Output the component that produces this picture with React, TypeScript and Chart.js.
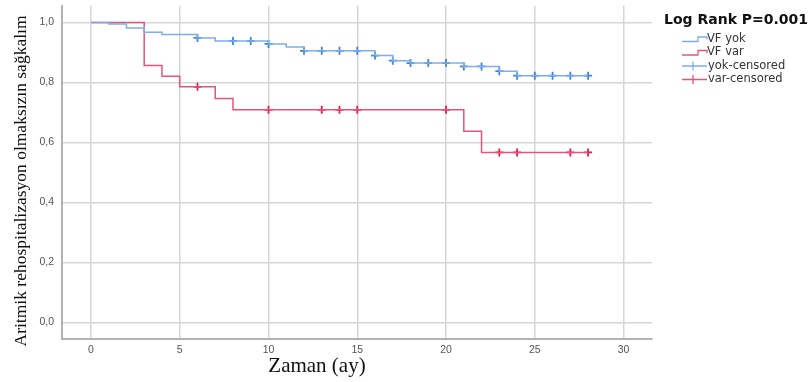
import React, { useEffect, useRef } from "react";
import { Chart, registerables } from "chart.js";

Chart.register(...registerables);

// Kaplan–Meier step data: survival value holding from each time onward
const yokTimes = [0, 1, 2, 3, 4, 6, 7, 10, 11, 12, 16, 17, 18, 21, 23, 24, 28];
const yokSurv = [1.0, 0.995, 0.982, 0.968, 0.96, 0.949, 0.939, 0.929, 0.919, 0.906, 0.89, 0.873, 0.865, 0.854, 0.838, 0.823, 0.823];
const yokCensored = [6, 8, 9, 10, 12, 13, 14, 15, 16, 17, 18, 19, 20, 21, 22, 23, 24, 25, 26, 27, 28];

const varTimes = [0, 3, 4, 5, 7, 8, 21, 22, 28];
const varSurv = [1.0, 0.857, 0.821, 0.786, 0.747, 0.709, 0.638, 0.567, 0.567];
const varCensored = [6, 10, 13, 14, 15, 20, 23, 24, 27, 28];

const xTicks = [0, 5, 10, 15, 20, 25, 30];
const yTicks = [0, 0.2, 0.4, 0.6, 0.8, 1.0];

const legendTitle = "Log Rank P=0.001";
const legendLabels = ["VF yok", "VF var", "yok-censored", "var-censored"];
const xTitle = "Zaman (ay)";
const yTitle = "Aritmik rehospitalizasyon olmaksızın sağkalım";

const BLUE_LINE = "#7dadee";
const BLUE_MARK = "#3d84de";
const RED_LINE = "#e8557a";
const RED_MARK = "#de1f4f";

function survivalAt(times: number[], surv: number[], t: number) {
  let v = surv[0];
  for (let i = 0; i < times.length; i++) if (times[i] <= t) v = surv[i];
  return v;
}

const overlay = {
  id: "kmOverlay",
  afterDraw(chart: any) {
    const ctx = chart.ctx as CanvasRenderingContext2D;
    ctx.save();
    // axis titles
    ctx.fillStyle = "#111";
    ctx.textAlign = "center";
    ctx.textBaseline = "middle";
    ctx.font = '21px "Liberation Serif", serif';
    ctx.fillText(xTitle, 317, 366);
    ctx.save();
    ctx.translate(21, 181);
    ctx.rotate(-Math.PI / 2);
    ctx.font = '17.5px "Liberation Serif", serif';
    ctx.fillText(yTitle, 0, 0);
    ctx.restore();

    // legend
    ctx.textAlign = "left";
    ctx.fillStyle = "#111";
    ctx.font = 'bold 14px "DejaVu Sans", sans-serif';
    ctx.fillText(legendTitle, 664, 20);
    ctx.font = '11.5px "DejaVu Sans", sans-serif';
    ctx.fillStyle = "#333";
    const rows = [39, 52.5, 66, 79.5];
    const colors = [BLUE_LINE, RED_LINE, BLUE_LINE, RED_LINE];
    rows.forEach((y, i) => {
      ctx.strokeStyle = colors[i];
      ctx.lineWidth = 1.3;
      ctx.beginPath();
      if (i < 2) {
        ctx.moveTo(682, y + 2.5);
        ctx.lineTo(698, y + 2.5);
        ctx.lineTo(698, y - 2);
        ctx.lineTo(707, y - 2);
        ctx.lineTo(707, y + 0.5);
      } else {
        ctx.moveTo(682, y);
        ctx.lineTo(707, y);
        ctx.moveTo(693, y - 4.5);
        ctx.lineTo(693, y + 4.5);
      }
      ctx.stroke();
      ctx.fillText(legendLabels[i], i < 2 ? 707 : 708, y);
    });
    ctx.restore();
  },
};

export default function App() {
  const ref = useRef<HTMLCanvasElement>(null);

  useEffect(() => {
    if (!ref.current) return;
    const chart = new Chart(ref.current, {
      type: "line",
      data: {
        datasets: [
          {
            label: legendLabels[0],
            data: yokTimes.map((t, i) => ({ x: t, y: yokSurv[i] })),
            borderColor: BLUE_LINE,
            borderWidth: 1.5,
            stepped: true,
            pointRadius: 0,
            fill: false,
          },
          {
            label: legendLabels[1],
            data: varTimes.map((t, i) => ({ x: t, y: varSurv[i] })),
            borderColor: RED_LINE,
            borderWidth: 1.5,
            stepped: true,
            pointRadius: 0,
            fill: false,
          },
          {
            label: legendLabels[2],
            data: yokCensored.map((t) => ({ x: t, y: survivalAt(yokTimes, yokSurv, t) })),
            showLine: false,
            pointStyle: "cross",
            pointRadius: 4,
            pointBorderWidth: 1.8,
            pointBorderColor: BLUE_MARK,
            borderColor: BLUE_MARK,
          },
          {
            label: legendLabels[3],
            data: varCensored.map((t) => ({ x: t, y: survivalAt(varTimes, varSurv, t) })),
            showLine: false,
            pointStyle: "cross",
            pointRadius: 4,
            pointBorderWidth: 1.8,
            pointBorderColor: RED_MARK,
            borderColor: RED_MARK,
          },
        ],
      },
      options: {
        animation: false,
        responsive: false,
        events: [],
        layout: { padding: { left: 0, top: 5, right: 156, bottom: 0 } },
        plugins: { legend: { display: false }, tooltip: { enabled: false } },
        scales: {
          x: {
            type: "linear",
            min: -1.63,
            max: 31.6,
            afterBuildTicks: (s: any) => {
              s.ticks = xTicks.map((v) => ({ value: v }));
            },
            afterFit: (s: any) => {
              s.height = 43;
              s.paddingLeft = 0;
              s.paddingRight = 0;
            },
            grid: { color: "#d6d6d6", lineWidth: 1.5, drawTicks: false },
            border: { color: "#b3b3b3", width: 2 },
            ticks: {
              padding: 5,
              color: "#555",
              font: { size: 10.5, family: '"Liberation Sans", Arial, sans-serif' },
            },
          },
          y: {
            type: "linear",
            min: -0.055,
            max: 1.056,
            afterBuildTicks: (s: any) => {
              s.ticks = yTicks.map((v) => ({ value: v }));
            },
            afterFit: (s: any) => {
              s.width = 62;
              s.paddingTop = 0;
              s.paddingBottom = 0;
            },
            grid: { color: "#d6d6d6", lineWidth: 1.5, drawTicks: false },
            border: { color: "#b3b3b3", width: 2 },
            ticks: {
              padding: 8,
              color: "#555",
              font: { size: 10.5, family: '"Liberation Sans", Arial, sans-serif' },
              callback: (v: any) => Number(v).toFixed(1).replace(".", ","),
            },
          },
        },
      },
      plugins: [overlay],
    });
    return () => chart.destroy();
  }, []);

  return (
    <div style={{ position: "absolute", left: 0, top: 0, width: 808, height: 382, background: "#fff" }}>
      <canvas ref={ref} width={808} height={382} style={{ display: "block" }} />
    </div>
  );
}
